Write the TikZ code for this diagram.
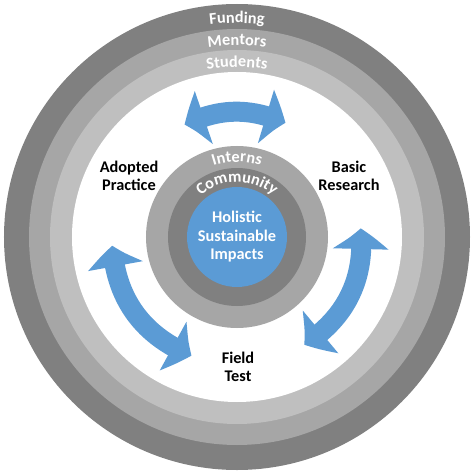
\documentclass[tikz,border=0pt]{standalone}
\usepackage{fontspec}
\setmainfont{Carlito}
\usetikzlibrary{arrows.meta}
\usetikzlibrary{bending}
\usetikzlibrary{decorations.text}
\definecolor{ringd}{HTML}{808080}
\definecolor{ringm}{HTML}{A6A6A6}
\definecolor{ringl}{HTML}{BFBFBF}
\definecolor{hub}{HTML}{5B9BD5}
\newcommand{\lblfont}{\fontsize{16.3}{18.5}\selectfont\bfseries}

\begin{document}
\begin{tikzpicture}[x=1pt,y=1pt,
  lbl/.style={align=center,font=\lblfont,inner sep=0pt},
  arctext/.style={decorate,decoration={text along path,text align=center,
    text format delimiters={|}{|},text={|\lblfont\color{white}|#1}}},
  blockarrow/.style={draw=hub,line width=20pt,
    {Triangle[bend,width=54pt,length=21pt]}-{Triangle[bend,width=54pt,length=21pt]}}]
\useasboundingbox (-237,-237) rectangle (237,237);
\fill[white] (-237,-237) rectangle (237,237);

\fill[ringd] (0,0) circle (233);
\fill[ringm] (0,0) circle (208);
\fill[ringl] (0,0) circle (187);
\fill[white] (0,0) circle (165);
\fill[ringm] (0,0) circle (91);
\fill[ringd] (0,0) circle (69);
\fill[hub] (0,0) circle (50);

\path[arctext=Funding] (150:214) arc[start angle=150,end angle=30,radius=214];
\path[arctext=Mentors] (150:192) arc[start angle=150,end angle=30,radius=192];
\path[arctext=Students] (150:170) arc[start angle=150,end angle=30,radius=170];
\path[arctext=Interns] (160:75) arc[start angle=160,end angle=20,radius=75];
\path[arctext=Community] (170:55) arc[start angle=170,end angle=10,radius=55];

\node[lbl] (ap) at (-108,61) {Adopted\\Practice};
\node[lbl] (br) at (112,61) {Basic\\Research};
\node[lbl] (ft) at (1,-130) {Field\\Test};
\node[lbl,text=white] (hsi) at (0,0) {Holistic\\Sustainable\\Impacts};

\coordinate (t1) at (115:124);
\coordinate (t2) at (67:124);
\coordinate (l1) at (184:125);
\coordinate (l2) at (249:127);
\coordinate (r1) at (4:124);
\coordinate (r2) at (-58:127);
\draw[blockarrow] (t1) to[bend left=24] (t2);
\draw[blockarrow] (l1) to[bend right=32] (l2);
\draw[blockarrow] (r1) to[bend left=31] (r2);
\end{tikzpicture}
\end{document}
